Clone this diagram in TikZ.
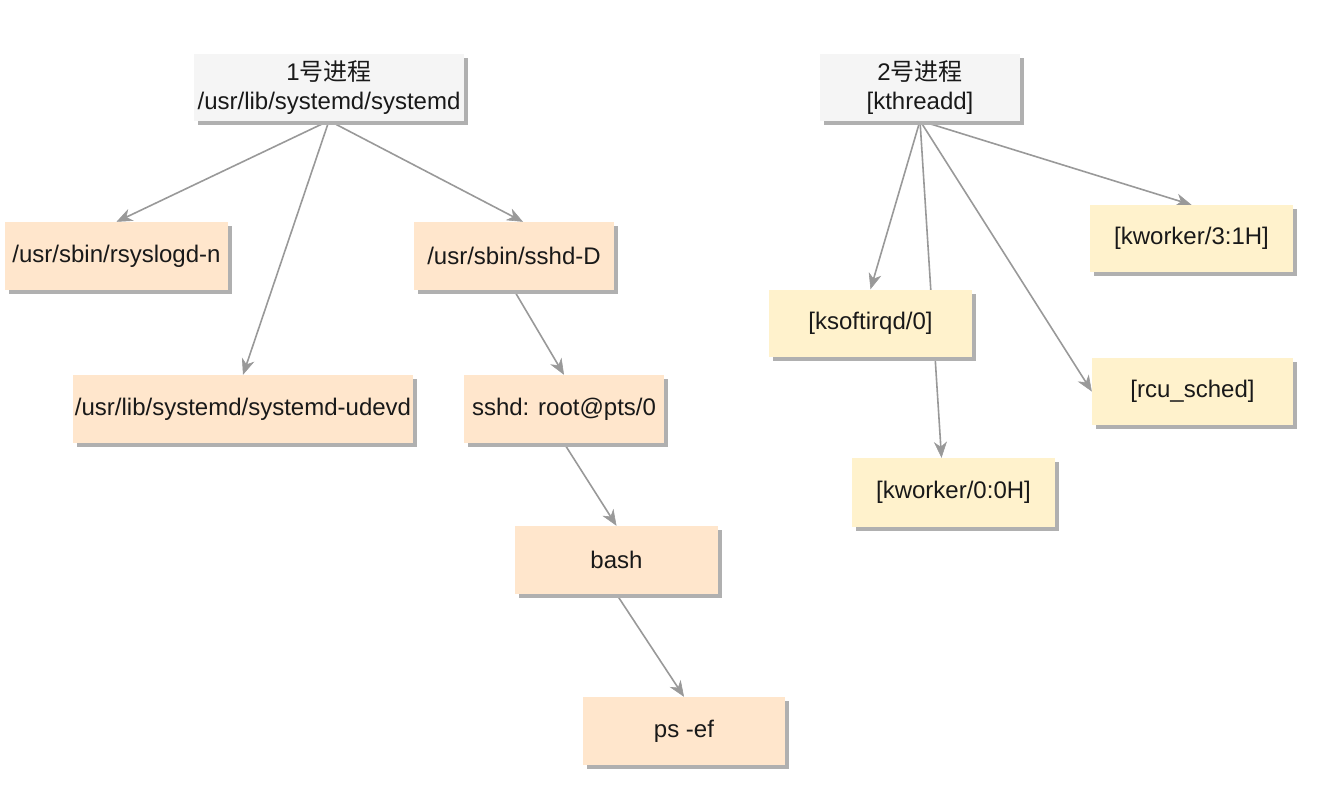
\documentclass[tikz,border=0pt]{standalone}
\usepackage{fontspec}
\setmainfont{Liberation Sans}
\newfontfamily\cjk{Noto Sans CJK SC}
\usetikzlibrary{arrows.meta,shadows,backgrounds}

\definecolor{peach}{HTML}{FFE6CC}
\definecolor{cream}{HTML}{FFF2CC}
\definecolor{lightgray}{HTML}{F5F5F5}
\definecolor{edgegray}{HTML}{999999}
\definecolor{shadowgray}{HTML}{B0B0B0}

\tikzset{
  proc/.style={rectangle, inner sep=0pt, align=center, text=black!90,
    font=\fontsize{24}{29}\selectfont,
    drop shadow={shadow xshift=4pt, shadow yshift=-4pt, fill=shadowgray, opacity=1}},
  root/.style={proc, fill=lightgray, minimum width=270pt, minimum height=66pt},
  user/.style={proc, fill=peach, minimum height=68pt},
  kern/.style={proc, fill=cream, minimum height=67pt},
  tipshape/.tip={Stealth[length=16pt, width=13pt, inset=5pt, fill=edgegray, line width=0.6pt]},
  link/.style={draw=edgegray, line width=1.6pt, -tipshape}
}

\begin{document}
\begin{tikzpicture}[x=1pt, y=-1pt]
  \useasboundingbox (0,0) rectangle (1336,808);

  % systemd tree
  \node[root] (p1) at (329,87.5) {1{\cjk 号进程}\\/usr/lib/systemd/systemd};
  \node[user, minimum width=223pt] (rsys) at (116.5,256) {/usr/sbin/rsyslogd-n};
  \node[user, minimum width=340pt] (udevd) at (243,409) {/usr/lib/systemd/systemd-udevd};
  \node[user, minimum width=200pt] (sshdD) at (514,256) {/usr/sbin/sshd-D};
  \node[user, minimum width=200pt] (sshdR) at (564,409) {sshd: root@pts/0};
  \node[user, minimum width=203pt] (bash) at (616.5,560) {bash};
  \node[user, minimum width=202pt] (ps) at (684,731) {ps -ef};

  % kthreadd tree
  \node[root, minimum width=200pt] (p2) at (920,87.5) {2{\cjk 号进程}\\{[kthreadd]}};
  \node[kern, minimum width=203pt] (ksoft) at (870.5,323) {[ksoftirqd/0]};
  \node[kern, minimum width=203pt, minimum height=69pt] (kw00) at (953.5,492.5) {[kworker/0:0H]};
  \node[kern, minimum width=203pt] (kw31) at (1191.5,238.5) {[kworker/3:1H]};
  \node[kern, minimum width=201pt] (rcu) at (1192.5,391.5) {[rcu\_sched]};

  % connectors run behind the boxes
  \begin{scope}[on background layer]
    \draw[link] (p1.south) -- (rsys.north);
    \draw[link] (p1.south) -- (udevd.north);
    \draw[link] (p1.south) -- ([xshift=9pt]sshdD.north);
    \draw[link] (sshdD.south) -- (sshdR.north);
    \draw[link] (sshdR.south) -- (bash.north);
    \draw[link] (bash.south) -- (ps.north);

    \draw[link] (p2.south) -- (ksoft.north);
    \draw[link] (p2.south) -- ([xshift=-12pt]kw00.north);
    \draw[link] (p2.south) -- (kw31.north);
    \draw[link] (p2.south) -- (rcu.west);
  \end{scope}
\end{tikzpicture}
\end{document}
